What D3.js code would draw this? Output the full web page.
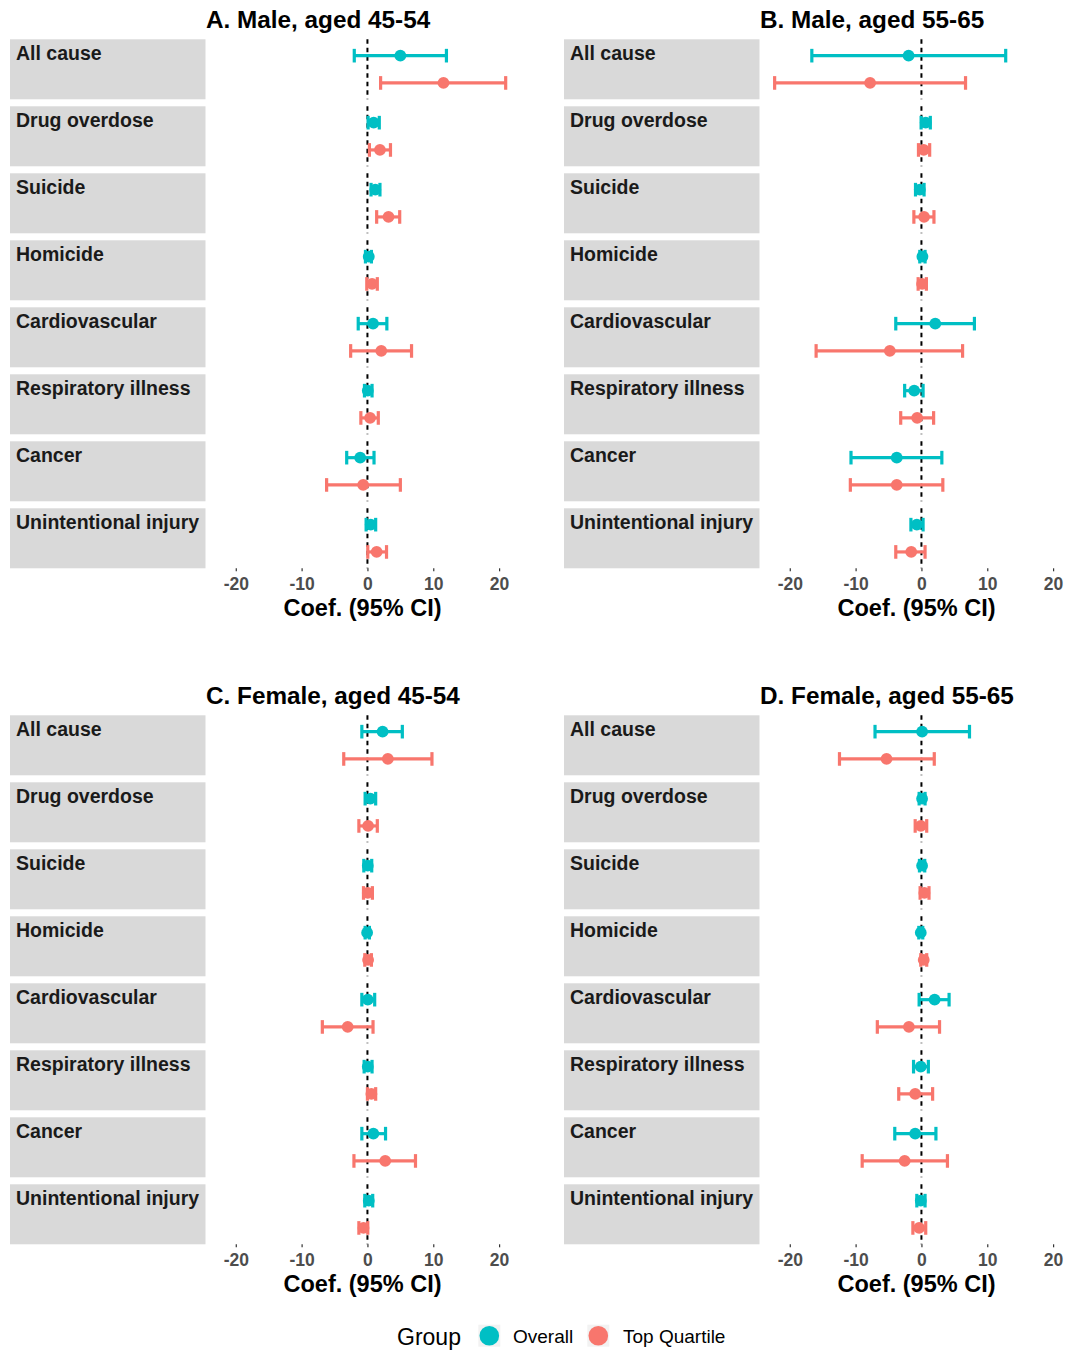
<!DOCTYPE html>
<html>
<head>
<meta charset="utf-8">
<script src="https://cdn.jsdelivr.net/npm/d3@7"></script>
<style>
  html, body { margin: 0; padding: 0; background: #fff; }
  svg { display: block; font-family: "Liberation Sans", Arial, sans-serif; }
</style>
</head>
<body>
<svg id="chart" width="1068" height="1352"></svg>
<script>
// Causes of death (one facet row each)
const causes = ["All cause", "Drug overdose", "Suicide", "Homicide",
  "Cardiovascular", "Respiratory illness", "Cancer", "Unintentional injury"];
const groups = ["Overall", "Top Quartile"];
const groupColors = ["#00BFC4", "#F8766D"];
const panelTitles = ["A. Male, aged 45-54", "B. Male, aged 55-65",
  "C. Female, aged 45-54", "D. Female, aged 55-65"];
const tickValues = [-20, -10, 0, 10, 20];
const tickLabels = ["-20", "-10", "0", "10", "20"];
const xLimits = [-22.5, 21];

// Coefficients per cause: [estimate, lower 95% CI, upper 95% CI]
const maleYoungOverall = [[5.0, -2.0, 12.0], [0.95, 0.1, 1.8], [1.2, 0.55, 1.9], [0.2, -0.3, 0.6],
  [0.85, -1.4, 2.95], [0.05, -0.45, 0.7], [-1.1, -3.15, 1.0], [0.5, -0.2, 1.25]];
const maleYoungTop = [[11.55, 2.0, 21.0], [1.9, 0.3, 3.5], [3.2, 1.4, 4.9], [0.7, -0.1, 1.5],
  [2.1, -2.55, 6.7], [0.4, -1.0, 1.65], [-0.65, -6.2, 5.0], [1.4, 0.05, 2.9]];
const maleOldOverall = [[-1.95, -16.65, 12.8], [0.65, -0.05, 1.35], [-0.25, -0.9, 0.4], [0.15, -0.25, 0.55],
  [2.1, -3.9, 8.05], [-1.1, -2.55, 0.25], [-3.75, -10.7, 3.1], [-0.7, -1.6, 0.25]];
const maleOldTop = [[-7.8, -22.3, 6.7], [0.35, -0.45, 1.25], [0.4, -1.15, 1.9], [0.1, -0.5, 0.75],
  [-4.8, -16.0, 6.25], [-0.65, -3.15, 1.85], [-3.75, -10.8, 3.25], [-1.55, -3.9, 0.55]];
const femaleYoungOverall = [[2.3, -0.85, 5.3], [0.45, -0.35, 1.25], [0.05, -0.55, 0.65], [-0.05, -0.35, 0.3],
  [0.05, -0.85, 1.1], [0.05, -0.5, 0.7], [0.9, -0.85, 2.75], [0.2, -0.4, 0.8]];
const femaleYoungTop = [[3.1, -3.6, 9.8], [0.1, -1.3, 1.5], [0.05, -0.6, 0.75], [0.1, -0.4, 0.6],
  [-3.0, -6.85, 0.85], [0.6, 0.0, 1.25], [2.7, -2.05, 7.3], [-0.6, -1.3, 0.05]];
const femaleOldOverall = [[0.1, -7.05, 7.3], [0.1, -0.35, 0.55], [0.1, -0.3, 0.5], [-0.1, -0.4, 0.2],
  [2.0, -0.35, 4.2], [-0.1, -1.2, 1.05], [-0.95, -4.05, 2.2], [-0.1, -0.7, 0.55]];
const femaleOldTop = [[-5.3, -12.45, 1.95], [-0.1, -0.95, 0.8], [0.45, -0.2, 1.15], [0.35, -0.1, 0.8],
  [-1.9, -6.7, 2.75], [-0.95, -3.45, 1.7], [-2.55, -9.0, 3.95], [-0.35, -1.3, 0.65]];

const panelSeries = [
  [maleYoungOverall, maleYoungTop],
  [maleOldOverall, maleOldTop],
  [femaleYoungOverall, femaleYoungTop],
  [femaleOldOverall, femaleOldTop]
];

// Layout
const stripW = 195;
const panelW = 315;
const rowH = 60;
const rowPitch = 67;
const panelOrigins = [[10, 39.3], [564, 39.3], [10, 715.3], [564, 715.3]];

const svg = d3.select("#chart");

// shared x scale (limits with 5% expansion)
const span = xLimits[1] - xLimits[0];
const xDomain = [xLimits[0] - 0.05 * span, xLimits[1] + 0.05 * span];

const yInner = d3.scalePoint().domain(groups).range([0, rowH]).padding(0.6);
const capHalf = yInner.step() * 0.25;

panelSeries.forEach((series, p) => {
  const [ox, oy] = panelOrigins[p];
  const px = ox + stripW;
  const g = svg.append("g");
  const x = d3.scaleLinear().domain(xDomain).range([px, px + panelW]);

  // title
  g.append("text")
    .attr("x", px + 1).attr("y", oy - 11.3)
    .attr("font-size", 24.3).attr("font-weight", "bold").attr("fill", "#000")
    .text(panelTitles[p]);

  causes.forEach((cause, r) => {
    const top = oy + r * rowPitch;
    // strip
    g.append("rect")
      .attr("x", ox).attr("y", top).attr("width", stripW + 0.5).attr("height", rowH)
      .attr("fill", "#d9d9d9");
    g.append("text")
      .attr("x", ox + 6).attr("y", top + 20.5)
      .attr("font-size", 19.5).attr("font-weight", "bold").attr("fill", "#1a1a1a")
      .text(cause);

    // reference line at zero
    g.append("line")
      .attr("x1", x(0)).attr("x2", x(0))
      .attr("y1", top).attr("y2", top + rowH)
      .attr("stroke", "#000").attr("stroke-width", 2)
      .attr("stroke-dasharray", "4.5,4");

    groups.forEach((grp, k) => {
      const [est, lo, hi] = series[k][r];
      const cy = top + yInner(grp);
      const col = groupColors[k];
      const eb = g.append("g").attr("stroke", col).attr("stroke-width", 3.2).attr("fill", "none");
      eb.append("line").attr("x1", x(lo)).attr("x2", x(hi)).attr("y1", cy).attr("y2", cy);
      eb.append("line").attr("x1", x(lo)).attr("x2", x(lo)).attr("y1", cy - capHalf).attr("y2", cy + capHalf);
      eb.append("line").attr("x1", x(hi)).attr("x2", x(hi)).attr("y1", cy - capHalf).attr("y2", cy + capHalf);
      g.append("circle").attr("cx", x(est)).attr("cy", cy).attr("r", 5.9).attr("fill", col);
    });
  });

  // x axis
  const bottom = oy + (causes.length - 1) * rowPitch + rowH;
  const ax = g.append("g")
    .attr("transform", `translate(0,${bottom})`)
    .call(d3.axisBottom(x).tickValues(tickValues).tickSize(3).tickPadding(6)
      .tickFormat((d, i) => tickLabels[i]));
  ax.select(".domain").remove();
  ax.selectAll(".tick line").attr("stroke", "#333").attr("stroke-width", 1.2);
  ax.selectAll(".tick text")
    .attr("font-size", 17.5).attr("font-weight", "bold").attr("fill", "#4d4d4d")
    .attr("font-family", "'Liberation Sans', Arial, sans-serif");

  g.append("text")
    .attr("x", px + panelW / 2).attr("y", bottom + 47.5)
    .attr("text-anchor", "middle")
    .attr("font-size", 23.5).attr("font-weight", "bold").attr("fill", "#000")
    .text("Coef. (95% CI)");
});

// legend
const leg = svg.append("g");
leg.append("text").attr("x", 397).attr("y", 1345)
  .attr("font-size", 23).attr("fill", "#000").text("Group");
const keyX = [489.3, 598.3];
const labelX = [513, 623];
groups.forEach((grp, k) => {
  leg.append("rect").attr("x", keyX[k] - 11).attr("y", 1335.7 - 11)
    .attr("width", 22).attr("height", 22).attr("fill", "#f2f2f2");
  leg.append("circle").attr("cx", keyX[k]).attr("cy", 1335.7).attr("r", 9.8).attr("fill", groupColors[k]);
  leg.append("text").attr("x", labelX[k]).attr("y", 1343)
    .attr("font-size", 19).attr("fill", "#000").text(grp);
});
</script>
</body>
</html>
